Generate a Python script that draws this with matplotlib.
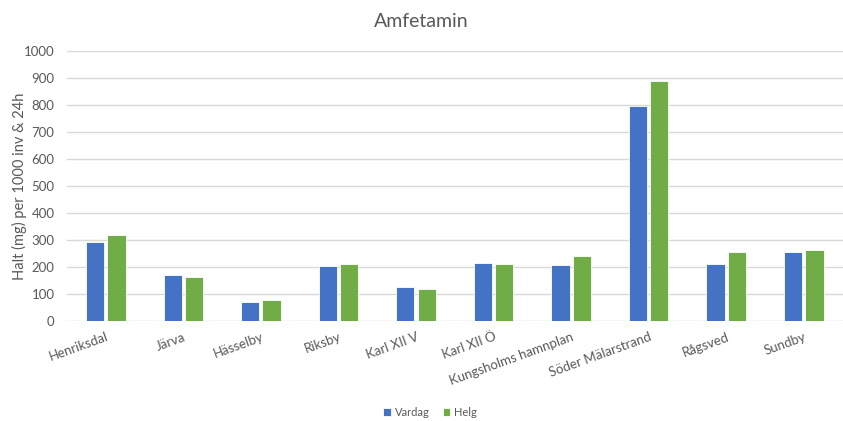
import matplotlib
matplotlib.use("Agg")
import matplotlib.pyplot as plt
import numpy as np

plt.rcParams['font.family'] = ['Lato', 'DejaVu Sans']

# Mätstationer och halter (mg per 1000 inv & 24h)
stationer = ["Henriksdal", "Järva", "Hässelby", "Riksby", "Karl XII V", "Karl XII Ö",
             "Kungsholms hamnplan", "Söder Mälarstrand", "Rågsved", "Sundby"]
vardag = [294, 170, 70, 204, 127, 215, 209, 796, 212, 256]
helg = [320, 163, 77, 212, 117, 210, 242, 890, 256, 263]

gra = "#595959"
fig = plt.figure(figsize=(8.43, 4.21), dpi=100)
ax = fig.add_axes([0.0795, 0.2375, 0.92, 0.6414])

x = np.arange(len(stationer))
b = 0.235
ax.bar(x - b / 2 - 0.02, vardag, b, color="#4472C4", edgecolor="white", linewidth=0.6, label="Vardag", zorder=3)
ax.bar(x + b / 2 + 0.02, helg, b, color="#70AD47", edgecolor="white", linewidth=0.6, label="Helg", zorder=3)

ax.set_xlim(-0.5, len(stationer) - 0.5)
ax.set_ylim(0, 1000)
ax.set_yticks(range(0, 1001, 100))
ax.grid(axis="y", color="#d9d9d9", linewidth=1, zorder=0)
for s in ax.spines.values():
    s.set_visible(False)
ax.tick_params(length=0, colors=gra, labelsize=9.5)
ax.tick_params(axis="y", pad=9)
ax.tick_params(axis="x", pad=7)
ax.set_xticks(x)
ax.set_xticklabels(stationer, rotation=20, ha="right", rotation_mode="anchor")
ax.set_ylabel("Halt (mg) per 1000 inv & 24h", color=gra, fontsize=10.5)
ax.yaxis.set_label_coords(-0.052, 0.5)

fig.suptitle("Amfetamin", color=gra, fontsize=14, y=0.97)
fig.legend(loc="lower center", ncol=2, frameon=False, fontsize=8, labelcolor=gra,
           handlelength=0.7, handleheight=0.7, handletextpad=0.3, columnspacing=1.2,
           bbox_to_anchor=(0.51, -0.016))

fig.savefig("out.png", dpi=100)
